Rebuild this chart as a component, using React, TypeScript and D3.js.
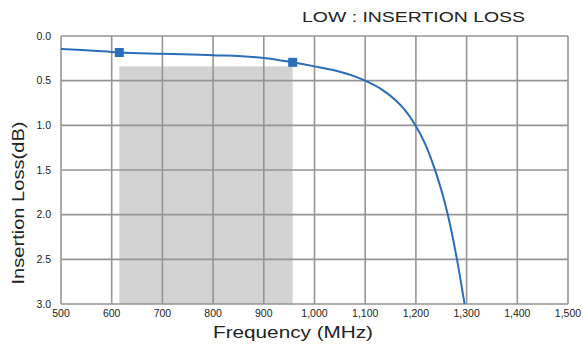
import React from 'react';
import * as d3 from 'd3';

// curve (MHz, dB)
const freqs = [500, 550, 600, 615, 700, 800, 900, 957, 1000, 1050, 1075, 1100, 1130, 1160, 1180, 1196, 1220, 1236, 1250, 1263, 1281, 1296];
const losses = [0.145, 0.16, 0.178, 0.185, 0.2, 0.215, 0.245, 0.295, 0.34, 0.4, 0.443, 0.5, 0.59, 0.72, 0.84, 0.97, 1.23, 1.47, 1.72, 2.0, 2.5, 3.0];

// band edge markers
const markerFreqs = [615, 957];
const markerLosses = [0.185, 0.295];

// shaded spec region
const bandFreqs = [615, 957];
const bandLimit = 0.34;

const xTicks = [500, 600, 700, 800, 900, 1000, 1100, 1200, 1300, 1400, 1500];
const yTicks = [0, 0.5, 1.0, 1.5, 2.0, 2.5, 3.0];

const W = 583;
const H = 349;
const m = { left: 61, right: 15, top: 36, bottom: 45 };

export default function App() {
  const x = d3.scaleLinear().domain([500, 1500]).range([m.left, W - m.right]);
  const y = d3.scaleLinear().domain([0, 3]).range([m.top, H - m.bottom]);

  const pts: [number, number][] = freqs.map((f, i) => [f, losses[i]]);
  const line = d3.line<[number, number]>()
    .x(d => x(d[0]))
    .y(d => y(d[1]))
    .curve(d3.curveMonotoneX);

  const grid = '#959595';
  const blue = '#2a6db8';
  const tickFont = { fontFamily: 'Liberation Sans, Arial, sans-serif', fontSize: 10.5, fill: '#222' };
  const labelStyle = { fontFamily: 'Liberation Sans, sans-serif', fill: '#222' };

  return (
    <svg width={W} height={H} style={{ position: 'absolute', left: 0, top: 0, background: '#fff' }}>
      <defs>
        <clipPath id="plot">
          <rect x={m.left} y={m.top} width={W - m.left - m.right} height={H - m.top - m.bottom} />
        </clipPath>
      </defs>

      <rect
        x={x(bandFreqs[0])}
        y={y(bandLimit)}
        width={x(bandFreqs[1]) - x(bandFreqs[0])}
        height={y(3) - y(bandLimit)}
        fill="#d3d3d3"
      />

      {xTicks.map(t => (
        <line key={'gx' + t} x1={x(t)} x2={x(t)} y1={y(0)} y2={y(3)} stroke={grid} strokeWidth={1.6} />
      ))}
      {yTicks.map(t => (
        <line key={'gy' + t} x1={x(500)} x2={x(1500)} y1={y(t)} y2={y(t)} stroke={grid} strokeWidth={1.6} />
      ))}

      <path d={line(pts) || ''} fill="none" stroke={blue} strokeWidth={2} clipPath="url(#plot)" />

      {markerFreqs.map((f, i) => (
        <rect key={'mk' + f} x={x(f) - 4.5} y={y(markerLosses[i]) - 4.5} width={9} height={9} fill={blue} />
      ))}

      {yTicks.map(t => (
        <text key={'ly' + t} x={m.left - 10} y={y(t)} dy="0.35em" textAnchor="end" {...tickFont}>
          {d3.format('.1f')(t)}
        </text>
      ))}
      {xTicks.map(t => (
        <text key={'lx' + t} x={x(t)} y={317} textAnchor="middle" {...tickFont}>
          {d3.format(',')(t)}
        </text>
      ))}

      <text x={302} y={22} textLength={223} lengthAdjust="spacingAndGlyphs"
        style={{ ...labelStyle, fontSize: 15 }}>
        LOW : INSERTION LOSS
      </text>
      <text x={293} y={338} textAnchor="middle" textLength={160} lengthAdjust="spacingAndGlyphs"
        style={{ ...labelStyle, fontSize: 16 }}>
        Frequency (MHz)
      </text>
      <text transform="translate(24,203) rotate(-90)" textAnchor="middle" textLength={163} lengthAdjust="spacingAndGlyphs"
        style={{ ...labelStyle, fontSize: 17 }}>
        Insertion Loss(dB)
      </text>
    </svg>
  );
}
